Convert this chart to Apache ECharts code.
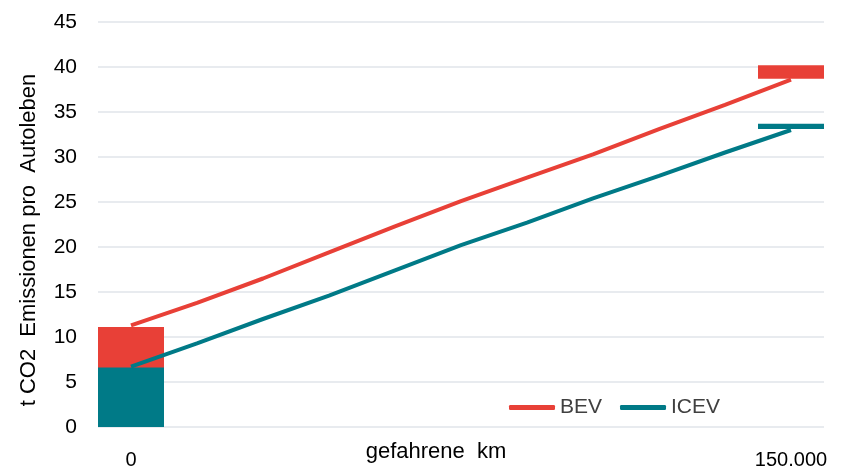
<!DOCTYPE html>
<html>
<head>
<meta charset="utf-8">
<script src="https://cdn.jsdelivr.net/npm/echarts@6/dist/echarts.min.js"></script>
<style>
  html, body { margin: 0; padding: 0; background: #fff; }
  #chart { width: 848px; height: 470px; }
</style>
</head>
<body>
<div id="chart"></div>
<script>
// Distance driven, in 15.000 km steps; only the ends carry a label
const kmLabels = ['0', '', '', '', '', '', '', '', '', '', '150.000'];

// Cumulative lifetime emissions (t CO2) along the distance driven
const bevLine  = [11.3, 13.8, 16.5, 19.4, 22.3, 25.1, 27.7, 30.3, 33.1, 35.8, 38.6];
const icevLine = [6.7, 9.3, 12.0, 14.6, 17.4, 20.2, 22.7, 25.4, 27.9, 30.5, 33.0];

// Blocks: production at 0 km and end-of-life at 150.000 km (lower / upper bound)
const bevBlockLow   = [0, null, null, null, null, null, null, null, null, null, 38.7];
const bevBlockHigh  = [11.1, null, null, null, null, null, null, null, null, null, 40.2];
const icevBlockLow  = [0, null, null, null, null, null, null, null, null, null, 33.1];
const icevBlockHigh = [6.6, null, null, null, null, null, null, null, null, null, 33.7];

const yTicks = { min: 0, max: 45, step: 5 };

const RED = '#E84037';
const TEAL = '#007A87';
const FONT = 'Liberation Sans, Arial, sans-serif';

const span = (lo, hi) => hi.map((h, i) => (h == null ? null : +(h - lo[i]).toFixed(2)));

const chart = echarts.init(document.getElementById('chart'), null, { renderer: 'canvas' });

chart.setOption({
  animation: false,
  textStyle: { fontFamily: FONT },
  grid: { left: 98, right: 24, top: 22, bottom: 38, containLabel: false },
  legend: {
    left: 504, top: 392,
    itemWidth: 46, itemHeight: 5, itemGap: 18,
    icon: 'roundRect',
    textStyle: { fontSize: 21, color: '#404040' },
    data: ['BEV', 'ICEV']
  },
  xAxis: {
    type: 'category',
    data: kmLabels,
    boundaryGap: true,
    axisLine: { show: false },
    axisTick: { show: false },
    axisLabel: { interval: 0, fontSize: 20, color: '#000', margin: 23 }
  },
  yAxis: {
    type: 'value',
    min: yTicks.min, max: yTicks.max, interval: yTicks.step,
    axisLine: { show: false },
    axisTick: { show: false },
    axisLabel: { fontSize: 21, color: '#000', margin: 21 },
    splitLine: { lineStyle: { color: '#E1E5EA', width: 1.5 } }
  },
  graphic: [
    {
      type: 'text', x: 29, y: 240, rotation: Math.PI / 2,
      style: {
        text: 't CO2  Emissionen pro  Autoleben',
        fontSize: 22, fill: '#000', fontFamily: FONT,
        align: 'center', verticalAlign: 'middle'
      }
    },
    {
      type: 'text', x: 436, y: 452,
      style: {
        text: 'gefahrene  km',
        fontSize: 22, fill: '#000', fontFamily: FONT,
        align: 'center', verticalAlign: 'middle'
      }
    }
  ],
  series: [
    {
      name: 'bevBase', type: 'bar', stack: 'bev', barGap: '-100%', barCategoryGap: '0%',
      itemStyle: { color: 'transparent' }, data: bevBlockLow, silent: true
    },
    {
      name: 'bevBlock', type: 'bar', stack: 'bev',
      itemStyle: { color: RED }, data: span(bevBlockLow, bevBlockHigh)
    },
    {
      name: 'icevBase', type: 'bar', stack: 'icev',
      itemStyle: { color: 'transparent' }, data: icevBlockLow, silent: true
    },
    {
      name: 'icevBlock', type: 'bar', stack: 'icev',
      itemStyle: { color: TEAL }, data: span(icevBlockLow, icevBlockHigh)
    },
    {
      name: 'BEV', type: 'line', data: bevLine, symbol: 'none', z: 5,
      itemStyle: { color: RED }, lineStyle: { color: RED, width: 4 }
    },
    {
      name: 'ICEV', type: 'line', data: icevLine, symbol: 'none', z: 5,
      itemStyle: { color: TEAL }, lineStyle: { color: TEAL, width: 4 }
    }
  ]
});
</script>
</body>
</html>
